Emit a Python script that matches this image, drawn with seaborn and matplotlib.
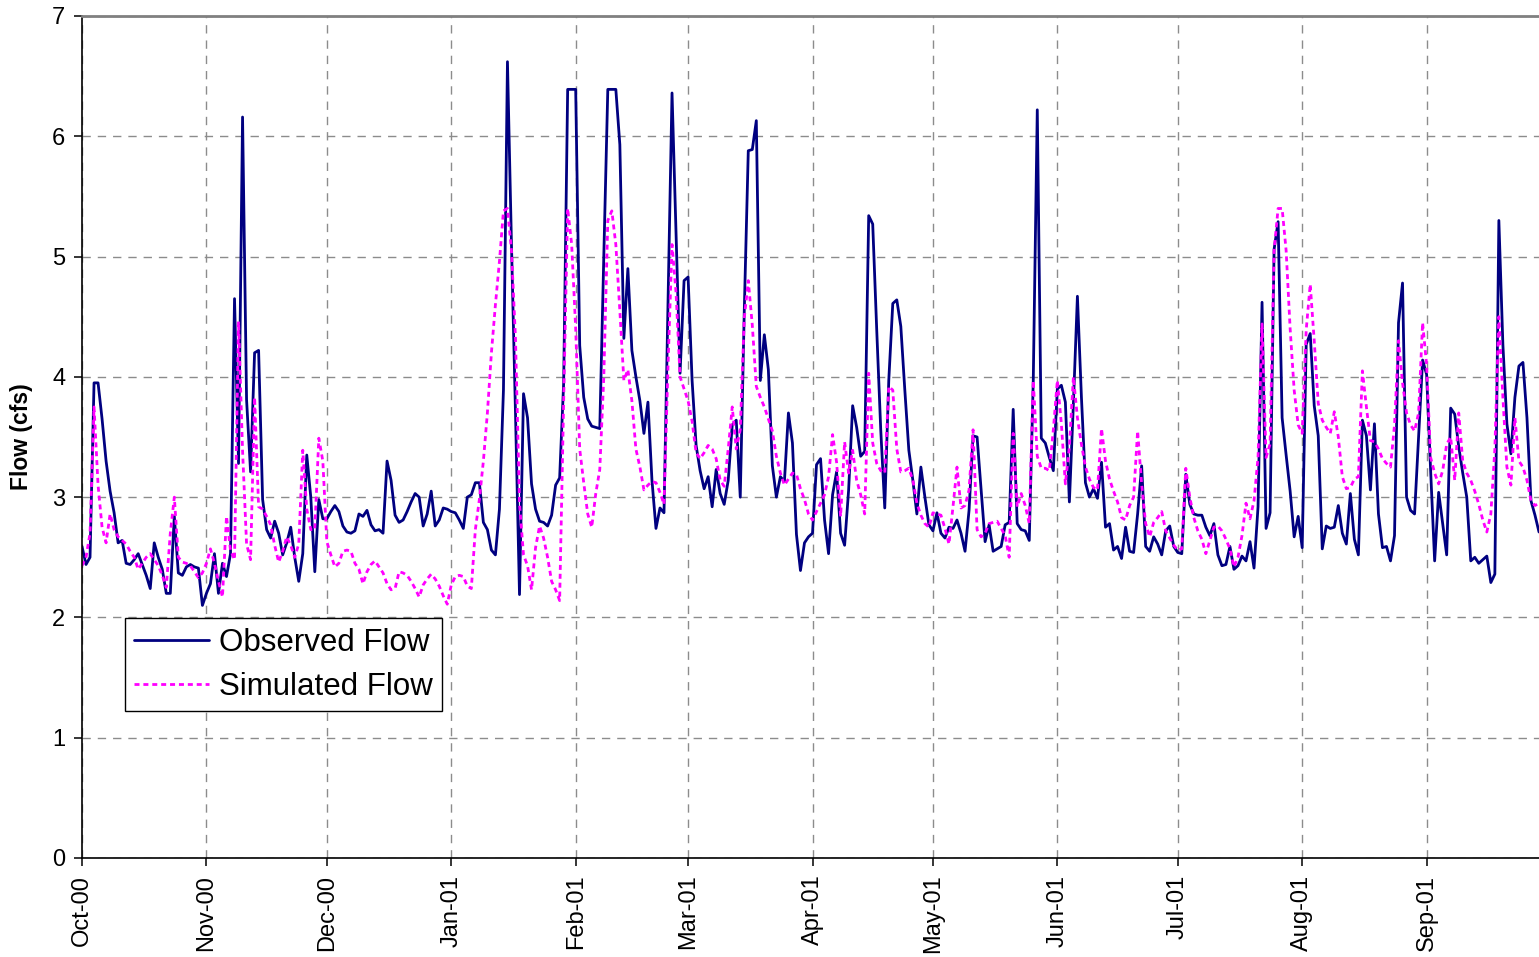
import pandas as pd
import seaborn as sns
import matplotlib.pyplot as plt
import matplotlib.dates as mdates

# daily flows, water year Oct 2000 - Sep 2001 (cfs)
start_date = '2000-10-01'

observed_flow = [
    2.59, 2.44, 2.50, 3.95, 3.95, 3.65, 3.30, 3.05, 2.87, 2.62,
    2.64, 2.45, 2.44, 2.48, 2.53, 2.44, 2.35, 2.24, 2.62, 2.50,
    2.40, 2.20, 2.20, 2.84, 2.37, 2.35, 2.42, 2.44, 2.42, 2.41,
    2.10, 2.20, 2.28, 2.53, 2.20, 2.45, 2.34, 2.53, 4.65, 3.28,
    6.16, 3.81, 3.21, 4.20, 4.22, 2.98, 2.73, 2.66, 2.80, 2.70,
    2.52, 2.62, 2.75, 2.50, 2.30, 2.53, 3.35, 3.00, 2.38, 2.98,
    2.82, 2.82, 2.88, 2.93, 2.88, 2.76, 2.71, 2.70, 2.72, 2.86,
    2.84, 2.89, 2.77, 2.72, 2.73, 2.70, 3.30, 3.14, 2.85, 2.79,
    2.81, 2.88, 2.96, 3.03, 3.00, 2.76, 2.86, 3.05, 2.76, 2.81,
    2.91, 2.90, 2.88, 2.87, 2.81, 2.74, 3.00, 3.02, 3.12, 3.12,
    2.79, 2.73, 2.56, 2.52, 2.90, 3.89, 6.62, 5.10, 3.70, 2.19,
    3.86, 3.66, 3.11, 2.90, 2.80, 2.79, 2.76, 2.85, 3.10, 3.16,
    3.95, 6.39, 6.39, 6.39, 4.26, 3.83, 3.65, 3.59, 3.58, 3.57,
    5.00, 6.39, 6.39, 6.39, 5.93, 4.32, 4.90, 4.22, 4.00, 3.80,
    3.53, 3.79, 3.14, 2.74, 2.91, 2.87, 4.60, 6.36, 5.20, 4.03,
    4.80, 4.83, 3.97, 3.43, 3.22, 3.07, 3.17, 2.92, 3.23, 3.03,
    2.94, 3.14, 3.60, 3.64, 3.00, 4.55, 5.88, 5.89, 6.13, 3.97,
    4.35, 4.06, 3.26, 3.00, 3.17, 3.13, 3.70, 3.45, 2.69, 2.39,
    2.62, 2.67, 2.70, 3.27, 3.32, 2.81, 2.53, 3.02, 3.21, 2.70,
    2.60, 3.06, 3.76, 3.58, 3.34, 3.38, 5.34, 5.27, 4.39, 3.56,
    2.91, 3.97, 4.61, 4.64, 4.42, 3.89, 3.39, 3.14, 2.86, 3.25,
    3.00, 2.77, 2.72, 2.87, 2.70, 2.66, 2.75, 2.74, 2.81, 2.70,
    2.55, 2.89, 3.51, 3.50, 3.06, 2.63, 2.77, 2.55, 2.57, 2.59,
    2.77, 2.79, 3.73, 2.78, 2.73, 2.72, 2.64, 3.97, 6.22, 3.49,
    3.45, 3.33, 3.22, 3.90, 3.93, 3.79, 2.96, 3.78, 4.67, 3.83,
    3.12, 3.00, 3.07, 2.99, 3.29, 2.75, 2.78, 2.56, 2.59, 2.49,
    2.75, 2.55, 2.54, 2.86, 3.26, 2.59, 2.55, 2.67, 2.61, 2.52,
    2.72, 2.76, 2.59, 2.54, 2.53, 3.19, 2.94, 2.86, 2.85, 2.85,
    2.75, 2.68, 2.78, 2.52, 2.43, 2.44, 2.59, 2.40, 2.43, 2.51,
    2.47, 2.63, 2.41, 2.92, 4.62, 2.74, 2.87, 5.06, 5.29, 3.66,
    3.35, 3.05, 2.67, 2.84, 2.58, 4.27, 4.36, 3.76, 3.51, 2.57,
    2.76, 2.74, 2.75, 2.93, 2.70, 2.61, 3.03, 2.65, 2.52, 3.64,
    3.51, 3.06, 3.61, 2.86, 2.58, 2.59, 2.47, 2.68, 4.45, 4.78,
    3.00, 2.89, 2.86, 3.50, 4.14, 4.02, 3.22, 2.47, 3.04, 2.78,
    2.52, 3.74, 3.69, 3.42, 3.20, 3.00, 2.47, 2.50, 2.45, 2.48,
    2.51, 2.29, 2.36, 5.30, 4.27, 3.61, 3.36, 3.83, 4.09, 4.12,
    3.66, 2.97, 2.85, 2.71,
]

simulated_flow = [
    2.43, 2.50, 2.70, 3.75, 3.10, 2.75, 2.62, 2.86, 2.73, 2.67,
    2.64, 2.61, 2.55, 2.50, 2.40, 2.45, 2.50, 2.53, 2.48, 2.43,
    2.35, 2.25, 2.70, 3.00, 2.50, 2.46, 2.45, 2.43, 2.38, 2.33,
    2.37, 2.45, 2.57, 2.45, 2.30, 2.17, 2.84, 2.56, 2.48, 4.46,
    3.39, 2.61, 2.48, 3.83, 2.92, 2.90, 2.84, 2.77, 2.60, 2.46,
    2.55, 2.67, 2.60, 2.50, 2.61, 3.39, 2.90, 2.73, 2.73, 3.49,
    3.30, 2.63, 2.52, 2.42, 2.45, 2.55, 2.56, 2.55, 2.45, 2.40,
    2.28, 2.38, 2.44, 2.47, 2.42, 2.37, 2.28, 2.23, 2.24, 2.38,
    2.37, 2.35, 2.30, 2.24, 2.17, 2.27, 2.32, 2.36, 2.32, 2.26,
    2.18, 2.11, 2.27, 2.34, 2.35, 2.34, 2.26, 2.24, 2.73, 2.98,
    3.30, 3.70, 4.20, 4.60, 4.96, 5.38, 5.40, 5.05, 4.32, 2.95,
    2.52, 2.43, 2.23, 2.58, 2.76, 2.66, 2.50, 2.30, 2.23, 2.14,
    3.80, 5.40, 5.10, 4.40, 3.40, 3.12, 2.86, 2.75, 3.03, 3.23,
    4.00, 5.30, 5.38, 5.10, 4.55, 3.97, 4.06, 3.80, 3.40, 3.25,
    3.06, 3.10, 3.13, 3.12, 3.04, 2.94, 4.09, 5.10, 4.70, 4.00,
    3.90, 3.80, 3.63, 3.37, 3.32, 3.37, 3.43, 3.40, 3.32, 3.14,
    3.09, 3.40, 3.75, 3.40, 3.56, 4.49, 4.80, 4.43, 3.92, 3.83,
    3.75, 3.65, 3.55, 3.34, 3.20, 3.10, 3.15, 3.20, 3.19, 3.07,
    2.98, 2.86, 2.81, 2.88, 2.95, 3.02, 3.17, 3.52, 3.29, 2.84,
    3.46, 3.20, 3.39, 3.14, 3.02, 2.86, 4.03, 3.45, 3.28, 3.22,
    3.20, 3.92, 3.89, 3.40, 3.21, 3.22, 3.24, 3.14, 2.95, 2.85,
    2.78, 2.75, 2.87, 2.86, 2.85, 2.74, 2.61, 2.92, 3.25, 2.91,
    2.93, 3.06, 3.56, 2.73, 2.67, 2.70, 2.78, 2.79, 2.80, 2.74,
    2.68, 2.50, 3.53, 2.92, 3.03, 2.93, 2.78, 3.97, 3.34, 3.24,
    3.24, 3.22, 3.56, 3.97, 3.61, 3.11, 3.42, 4.00, 3.66, 3.44,
    3.25, 3.15, 3.08, 3.06, 3.57, 3.30, 3.15, 3.05, 2.96, 2.83,
    2.81, 2.93, 3.00, 3.55, 3.11, 2.78, 2.67, 2.79, 2.83, 2.88,
    2.72, 2.66, 2.60, 2.56, 2.57, 3.24, 3.00, 2.83, 2.72, 2.65,
    2.53, 2.64, 2.75, 2.76, 2.72, 2.65, 2.57, 2.42, 2.50, 2.68,
    2.95, 2.82, 2.97, 3.33, 4.44, 3.33, 3.44, 5.05, 5.40, 5.40,
    5.05, 4.40, 3.89, 3.60, 3.53, 4.39, 4.77, 4.30, 3.78, 3.64,
    3.58, 3.53, 3.71, 3.50, 3.17, 3.07, 3.08, 3.15, 3.17, 4.05,
    3.75, 3.47, 3.46, 3.40, 3.32, 3.28, 3.25, 3.60, 4.30, 3.95,
    3.70, 3.60, 3.55, 3.70, 4.45, 4.10, 3.33, 3.20, 3.11, 3.22,
    3.44, 3.50, 3.14, 3.70, 3.30, 3.20, 3.14, 3.05, 2.94, 2.81,
    2.71, 2.86, 3.40, 4.50, 3.83, 3.25, 3.10, 3.66, 3.30, 3.25,
    3.14, 2.97, 2.93, 2.95,
]

y_ticks = [0, 1, 2, 3, 4, 5, 6, 7]

dates = pd.date_range(start_date, periods=len(observed_flow), freq='D')
df = pd.DataFrame({'Date': dates, 'Observed': observed_flow, 'Simulated': simulated_flow})

sns.set_style('white')
plt.rcParams['font.family'] = ['Liberation Sans', 'DejaVu Sans']
plt.rcParams['text.color'] = 'black'
plt.rcParams['axes.labelcolor'] = 'black'
plt.rcParams['xtick.color'] = 'black'
plt.rcParams['ytick.color'] = 'black'

fig = plt.figure(figsize=(15.39, 9.57), dpi=100)
ax = fig.add_axes([82 / 1539, 99 / 957, 1457 / 1539, 842 / 957])

# grid first so the lines sit on top
ax.set_axisbelow(True)
ax.grid(True, color='#8c8c8c', linestyle=(0, (6, 5)), linewidth=1.0)

sns.lineplot(data=df, x='Date', y='Observed', ax=ax, color='#000080',
             linewidth=2.0, label='Observed Flow')
sns.lineplot(data=df, x='Date', y='Simulated', ax=ax, color='#ff00ff',
             linewidth=2.0, linestyle=(0, (1.8, 1.4)), label='Simulated Flow')

ax.set_xlim(dates[0], dates[-1])
ax.set_ylim(0, 7)
ax.set_yticks(y_ticks)

ax.xaxis.set_major_locator(mdates.MonthLocator())
ax.xaxis.set_major_formatter(mdates.DateFormatter('%b-%y'))
plt.setp(ax.get_xticklabels(), rotation=90, ha='center', va='top')

ax.tick_params(axis='both', direction='out', length=6, width=1.1,
               labelsize=17, color='black', pad=6, labelcolor='black')
ax.tick_params(axis='x', bottom=True)
ax.tick_params(axis='y', left=True)

ax.set_xlabel('')
ax.set_ylabel('Flow (cfs)', fontsize=16.5, fontweight='bold', labelpad=14)

for side in ['left', 'bottom']:
    ax.spines[side].set_color('black')
    ax.spines[side].set_linewidth(1.2)
ax.spines['top'].set_color('#808080')
ax.spines['top'].set_linewidth(2)
ax.spines['right'].set_visible(False)

leg = ax.legend(loc='lower left', bbox_to_anchor=(0.0295, 0.1746), borderaxespad=0,
                fontsize=22.5, frameon=True, fancybox=False, framealpha=1,
                edgecolor='black', handlelength=2.4, handletextpad=0.3,
                borderpad=0.3, labelspacing=0.45)
leg.get_frame().set_linewidth(1.0)
for t in leg.get_texts():
    t.set_color('black')

fig.savefig('out.png', dpi=100)
